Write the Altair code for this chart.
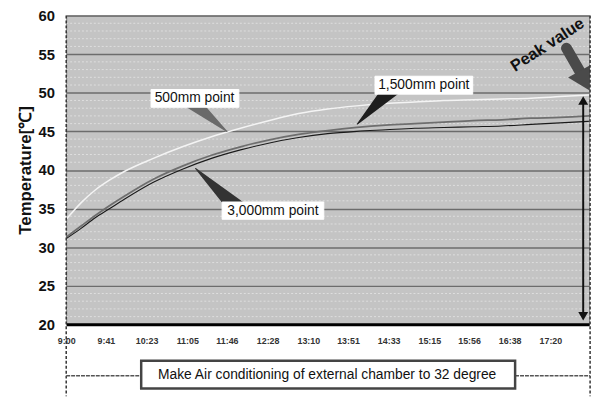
import altair as alt
import pandas as pd

FONT = "Liberation Sans"

# ---- data ----
minutes = [0, 15, 30, 45, 60, 90, 120, 150, 180, 210, 240, 270, 300, 330, 360, 390, 420, 450, 480, 510, 540]
t500 = [33.6, 35.7, 37.4, 38.7, 39.8, 41.5, 43.0, 44.3, 45.4, 46.4, 47.3, 47.9, 48.3, 48.6, 48.8, 49.0, 49.1, 49.2, 49.3, 49.5, 49.7]
t1500 = [31.3, 32.7, 34.1, 35.4, 36.6, 38.8, 40.5, 41.9, 43.0, 43.9, 44.6, 45.1, 45.5, 45.8, 46.0, 46.2, 46.4, 46.5, 46.7, 46.8, 47.0]
t3000 = [31.1, 32.4, 33.8, 35.0, 36.2, 38.4, 40.1, 41.5, 42.6, 43.5, 44.2, 44.7, 45.0, 45.2, 45.4, 45.5, 45.6, 45.7, 45.9, 46.1, 46.3]
series_names = ["500mm point", "1,500mm point", "3,000mm point"]
series_colors = ["#f4f4f4", "#6e6e6e", "#1a1a1a"]
series_widths = [1.5, 1.8, 1.1]

tick_labels = ["9:00", "9:41", "10:23", "11:05", "11:46", "12:28", "13:10",
               "13:51", "14:33", "15:15", "15:56", "16:38", "17:20"]
y_major = [20, 25, 30, 35, 40, 45, 50, 55, 60]
y_minor = [v for v in range(21, 60) if v % 5]

tick_vals = [int(s.split(":")[0]) * 60 + int(s.split(":")[1]) - 540 for s in tick_labels]

rows = []
for name, vals, col, w in zip(series_names, [t500, t1500, t3000], series_colors, series_widths):
    for m, t in zip(minutes, vals):
        rows.append({"m": m, "t": t, "s": name, "c": col, "w": w})
lines_df = pd.DataFrame(rows)

# callout annotations (label box, label text, wedge)
label_text = ["500mm point", "1,500mm point", "3,000mm point"]
label_m = [132.5, 369.3, 213.5]
label_t = [49.27, 50.98, 34.72]
box_m1 = [87.6, 318.9, 161.0]
box_m2 = [178.3, 419.8, 266.0]
box_t1 = [50.42, 52.14, 35.85]
box_t2 = [48.12, 49.82, 33.61]
wedge_start_m = [130.4, 337.2, 176.3]
wedge_start_t = [48.75, 50.67, 35.08]
wedge_tip_m = [166.1, 300.6, 133.5]
wedge_tip_t = [44.98, 45.94, 40.19]
wedge_w = [15, 17, 17]
wedge_col = ["#6a6a6a", "#1e1e1e", "#333333"]

XSC = alt.Scale(domain=[0, 540], nice=False, zero=False)
YSC = alt.Scale(domain=[20, 60], nice=False, zero=False)
XAX = alt.Axis(values=tick_vals, grid=False, ticks=False, domain=True,
               domainColor="#000000", domainWidth=3, labelPadding=12, labelFlush=False,
               labelFont=FONT, labelFontSize=9, labelFontWeight="bold",
               labelColor="#333333", title=None,
               labelExpr="floor(datum.value/60)+9 + ':' + (datum.value%60 < 10 ? '0' : '') + datum.value%60")
YAX = alt.Axis(values=y_major, grid=True, gridColor="#6c6c6c", gridWidth=1.5,
               ticks=False, domain=False, labelPadding=12, labelFont=FONT,
               labelFontSize=15, labelFontWeight="bold", labelColor="#111111",
               title="Temperature[℃]", titleFont=FONT, titleFontSize=17,
               titleFontWeight="bold", titlePadding=3, titleColor="#111111")


def X(f):
    return alt.X(f, scale=XSC, axis=XAX)


def Y(f):
    return alt.Y(f, scale=YSC, axis=YAX)


one = pd.DataFrame({"a": [0]})

minor = alt.Chart(pd.DataFrame({"t": y_minor})).mark_rule(
    color="#dedede", strokeDash=[2, 2], strokeWidth=1
).encode(y=Y("t:Q"))

lines = alt.Chart(lines_df).mark_line(interpolate="monotone").encode(
    x=X("m:Q"), y=Y("t:Q"),
    color=alt.Color("c:N", scale=None),
    strokeWidth=alt.StrokeWidth("w:Q", scale=None),
    detail="s:N",
    order="m:Q",
)

wrows = []
for i in range(3):
    wrows.append({"m": wedge_start_m[i], "t": wedge_start_t[i], "sz": wedge_w[i], "o": 0, "id": i, "c": wedge_col[i]})
    wrows.append({"m": wedge_tip_m[i], "t": wedge_tip_t[i], "sz": 0, "o": 1, "id": i, "c": wedge_col[i]})
wedges = alt.Chart(pd.DataFrame(wrows)).mark_trail().encode(
    x=X("m:Q"), y=Y("t:Q"),
    size=alt.Size("sz:Q", scale=None), order="o:Q", detail="id:N",
    color=alt.Color("c:N", scale=None))

boxes_df = pd.DataFrame({"m1": box_m1, "m2": box_m2, "t1": box_t1, "t2": box_t2})
boxes = alt.Chart(boxes_df).mark_rect(fill="white", stroke="white").encode(
    x=X("m1:Q"), x2="m2:Q", y=Y("t1:Q"), y2="t2:Q")

texts = alt.Chart(pd.DataFrame({"m": label_m, "t": label_t, "lab": label_text})).mark_text(
    font=FONT, fontSize=14, color="#111111", align="center", baseline="middle"
).encode(x=X("m:Q"), y=Y("t:Q"), text="lab:N")

# Peak value annotation
peak = alt.Chart(pd.DataFrame({"m": [497.0], "t": [56.2], "lab": ["Peak value"]})).mark_text(
    font=FONT, fontSize=16.5, fontWeight="bold", color="#111111", angle=327,
    align="center", baseline="middle").encode(
    x=X("m:Q"), y=Y("t:Q"), text="lab:N")

shaft_rows = [
    {"m": 516.6, "t": 55.78, "sz": 11, "o": 0},
    {"m": 533.0, "t": 52.2, "sz": 11, "o": 1},
]
peak_shaft = alt.Chart(pd.DataFrame(shaft_rows)).mark_trail(color="#4a4a4a").encode(
    x=X("m:Q"), y=Y("t:Q"), size=alt.Size("sz:Q", scale=None), order="o:Q")
peak_head = alt.Chart(pd.DataFrame({"m": [535.1], "t": [51.54]})).mark_point(
    shape="triangle-down", size=650, filled=True, color="#4a4a4a", opacity=1, angle=331
).encode(x=X("m:Q"), y=Y("t:Q"))

darrow_shaft = alt.Chart(pd.DataFrame({"m": [533.9], "t1": [48.6], "t2": [21.4]})).mark_rule(
    color="#111111", strokeWidth=2).encode(x=X("m:Q"), y=Y("t1:Q"), y2="t2:Q")
darrow_heads = alt.Chart(pd.DataFrame({"m": [533.9, 533.9], "t": [49.0, 21.05],
                                       "sh": ["triangle-up", "triangle-down"]})).mark_point(
    size=100, filled=True, color="#111111", opacity=1).encode(
    x=X("m:Q"), y=Y("t:Q"), shape=alt.Shape("sh:N", scale=None))

# frame decorations (pixel positions relative to plot area)
left_dash = alt.Chart(one).mark_rule(color="#333333", strokeDash=[3, 2], strokeWidth=1.5).encode(
    x=alt.value(0), y=alt.value(0), y2=alt.value(386))
right_dash = alt.Chart(one).mark_rule(color="#333333", strokeDash=[3, 2], strokeWidth=1.5).encode(
    x=alt.value(531), y=alt.value(0), y2=alt.value(386))
bottom_dash = alt.Chart(one).mark_rule(color="#555555", strokeDash=[4, 1], strokeWidth=1.5).encode(
    x=alt.value(0), x2=alt.value(531), y=alt.value(365))
bottom_box = alt.Chart(one).mark_rect(fill="white", stroke="#444444", strokeWidth=2.5).encode(
    x=alt.value(76), x2=alt.value(455), y=alt.value(350), y2=alt.value(378))
bottom_text = alt.Chart(pd.DataFrame({"lab": ["Make Air conditioning of external chamber to 32 degree"]})).mark_text(
    font=FONT, fontSize=14, color="#111111", align="center", baseline="middle").encode(
    x=alt.value(264.5), y=alt.value(364.5), text="lab:N")

chart = alt.layer(
    minor, lines, wedges, boxes, texts, peak, peak_shaft, peak_head, darrow_shaft, darrow_heads,
    left_dash, right_dash, bottom_dash, bottom_box, bottom_text
).properties(
    width=530, height=313,
    padding={"left": 59, "top": 5, "right": 8, "bottom": 72},
    autosize=alt.AutoSizeParams(type="none"),
    background="white",
).configure_view(fill="#c4c4c4", stroke="#808080", strokeWidth=1)

chart.save("out.html", embed_options={"renderer": "svg", "actions": False})
